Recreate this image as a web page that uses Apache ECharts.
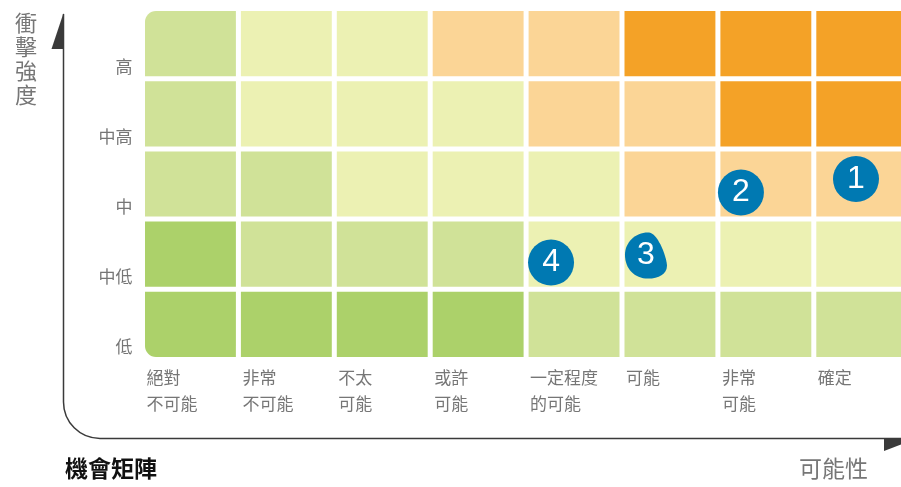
<!DOCTYPE html>
<html>
<head>
<meta charset="utf-8">
<script src="https://cdn.jsdelivr.net/npm/echarts@6/dist/echarts.min.js"></script>
<style>
  html, body { margin: 0; padding: 0; background: #fff; }
  #chart { width: 901px; height: 487px; }
</style>
</head>
<body>
<div id="chart"></div>
<script>
// 可能性 (columns, left → right)
const likelihoodLabels = ['絕對\n不可能', '非常\n不可能', '不太\n可能', '或許\n可能', '一定程度\n的可能', '可能', '非常\n可能', '確定'];
// 衝擊強度 (rows, bottom → top)
const impactLabels = ['低', '中低', '中', '中高', '高'];
// colour level of each cell, rows bottom → top
const cellLevels = [
  [0, 0, 0, 0, 1, 1, 1, 1], // 低
  [0, 1, 1, 1, 2, 2, 2, 2], // 中低
  [1, 1, 2, 2, 2, 3, 3, 3], // 中
  [1, 2, 2, 2, 3, 3, 4, 4], // 中高
  [1, 2, 2, 3, 3, 4, 4, 4]  // 高
];
const levelColors = ['#acd16a', '#d0e298', '#ecf1b3', '#fbd596', '#f4a227'];
// numbered risks, position in cell units
const riskIds = ['1', '2', '3', '4'];
const riskX = [7.44, 6.24, 5.25, 4.26];
const riskY = [2.57, 2.38, 1.48, 1.38];

const GREY = '#767676';
const AXIS = '#3a3a3a';
const CJK = '"Noto Sans CJK TC", "Noto Sans CJK SC", sans-serif';
const GAP = 5;

const cells = [];
cellLevels.forEach((row, y) => row.forEach((lv, x) => cells.push([x, y, lv])));

// cells with the left corners rounded like the original
function renderCell(params, api) {
  const x = api.value(0), y = api.value(1), lv = api.value(2);
  const c = api.coord([x, y]);
  const s = api.size([1, 1]);
  let r = 0;
  if (x === 0 && y === impactLabels.length - 1) r = [11, 0, 0, 0];
  if (x === 0 && y === 0) r = [0, 0, 0, 11];
  return {
    type: 'rect',
    shape: { x: c[0] - s[0] / 2 + GAP / 2, y: c[1] - s[1] / 2 + GAP / 2, width: s[0] - GAP, height: s[1] - GAP, r },
    style: { fill: levelColors[lv] }
  };
}

const dropPath = 'path://M60,0 C80,5 100,55 100,72 C100,90 80,100 55,100 C22,100 0,78 0,48 C0,20 28,-3 60,0 Z';
const risks = riskIds.map((id, i) => {
  const d = { name: id, value: [riskX[i], riskY[i]] };
  if (id === '3') { d.symbol = dropPath; d.symbolSize = [42, 46]; }
  return d;
});

const chart = echarts.init(document.getElementById('chart'));
chart.setOption({
  backgroundColor: '#fff',
  animation: false,
  grid: { left: 142.5, top: 8.5, width: 767.2, height: 351, outerBoundsMode: 'none', containLabel: false },
  xAxis: [
    { type: 'category', data: likelihoodLabels, show: false },
    { type: 'value', min: 0, max: 8, interval: 1, position: 'bottom',
      axisLine: { show: false }, axisTick: { show: false }, splitLine: { show: false },
      axisLabel: { formatter: v => likelihoodLabels[v] || '', align: 'left', margin: 5,
        padding: [0, 0, 0, 4], color: GREY, fontSize: 17, lineHeight: 26, fontFamily: CJK } }
  ],
  yAxis: [
    { type: 'category', data: impactLabels, show: false },
    { type: 'value', min: 0, max: 5, interval: 1, position: 'left',
      axisLine: { show: false }, axisTick: { show: false }, splitLine: { show: false },
      axisLabel: { formatter: v => impactLabels[v] || '', verticalAlign: 'bottom', lineHeight: 25,
        margin: 10, color: GREY, fontSize: 17, fontFamily: CJK } }
  ],
  series: [
    { type: 'custom', renderItem: renderCell, data: cells, silent: true },
    { type: 'scatter', xAxisIndex: 1, yAxisIndex: 1, data: risks,
      symbol: 'circle', symbolSize: 46,
      itemStyle: { color: '#0079b2', opacity: 1 },
      label: { show: true, position: 'inside', formatter: p => p.name, color: '#fff',
        fontSize: 32, fontFamily: '"Liberation Sans", Arial, sans-serif' },
      emphasis: { disabled: true }, z: 5 }
  ],
  graphic: [
    { type: 'line', shape: { x1: 63.5, y1: 14, x2: 63.5, y2: 402 }, style: { stroke: AXIS, lineWidth: 1.5 } },
    { type: 'arc', shape: { cx: 100, cy: 402, r: 36.5, startAngle: Math.PI / 2, endAngle: Math.PI, clockwise: true },
      style: { fill: null, stroke: AXIS, lineWidth: 1.5 } },
    { type: 'line', shape: { x1: 100, y1: 438.5, x2: 905, y2: 438.5 }, style: { stroke: AXIS, lineWidth: 1.5 } },
    { type: 'polygon', shape: { points: [[63.5, 13], [63.5, 49], [51.5, 49]] }, style: { fill: AXIS } },
    { type: 'polygon', shape: { points: [[884, 438], [918, 438], [884, 451]] }, style: { fill: AXIS } },
    { type: 'text', left: 15, top: 11,
      style: { text: '衝\n擊\n強\n度', fontSize: 22, lineHeight: 24, fill: GREY, fontFamily: CJK } },
    { type: 'text', left: 65, top: 457,
      style: { text: '機會矩陣', fontSize: 23, fontWeight: 'bold', fill: '#111', fontFamily: CJK } },
    { type: 'text', left: 799, top: 457,
      style: { text: '可能性', fontSize: 23, fill: GREY, fontFamily: CJK } }
  ]
});
</script>
</body>
</html>
